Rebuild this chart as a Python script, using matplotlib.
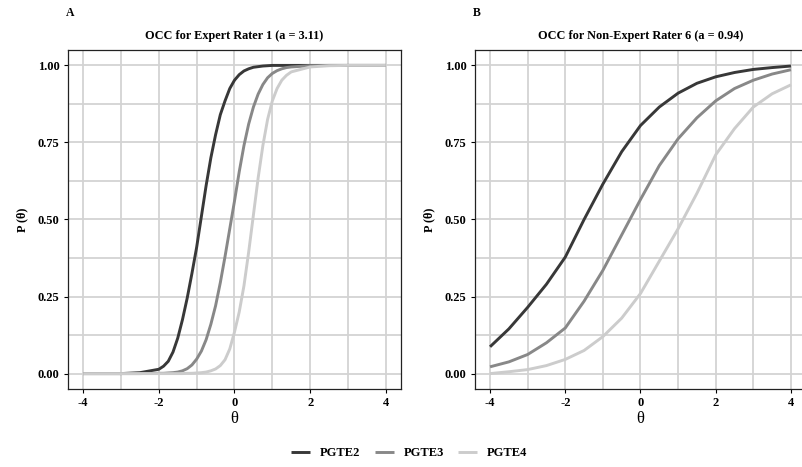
import matplotlib
matplotlib.use("Agg")
import matplotlib.pyplot as plt
from matplotlib.ticker import MultipleLocator

plt.rcParams["font.family"] = ["Liberation Serif", "DejaVu Serif"]

# theta grid (finer where the expert curves are steep)
theta_a = [-4, -3, -2.5,
           -2, -1.875, -1.75, -1.625, -1.5, -1.375, -1.25, -1.125, -1,
           -0.875, -0.75, -0.625, -0.5, -0.375, -0.25, -0.125, 0,
           0.125, 0.25, 0.375, 0.5, 0.625, 0.75, 0.875, 1,
           1.125, 1.25, 1.375, 1.5,
           2, 2.5, 3, 4]
# panel A: expert rater 1
a_pgte2 = [0.0, 0.0, 0.003,
           0.014, 0.024, 0.04, 0.07, 0.115, 0.175, 0.245, 0.325, 0.41,
           0.51, 0.61, 0.70, 0.775, 0.84, 0.885, 0.925, 0.952,
           0.97, 0.982, 0.989, 0.994, 0.996, 0.998, 0.999, 1.0,
           1.0, 1.0, 1.0, 1.0,
           1.0, 1.0, 1.0, 1.0]
a_pgte3 = [0.0, 0.0, 0.0,
           0.001, 0.001, 0.002, 0.003, 0.005, 0.009, 0.016, 0.028, 0.047,
           0.073, 0.11, 0.16, 0.22, 0.295, 0.38, 0.47, 0.56,
           0.655, 0.74, 0.81, 0.865, 0.907, 0.938, 0.96, 0.974,
           0.983, 0.989, 0.993, 0.995,
           0.999, 1.0, 1.0, 1.0]
a_pgte4 = [0.0, 0.0, 0.0,
           0.0, 0.0, 0.0, 0.0, 0.0, 0.0, 0.001, 0.001, 0.002,
           0.003, 0.005, 0.009, 0.015, 0.026, 0.045, 0.08, 0.135,
           0.2, 0.285, 0.395, 0.515, 0.635, 0.74, 0.825, 0.885,
           0.925, 0.952, 0.968, 0.979,
           0.995, 0.999, 1.0, 1.0]

theta_b = [-4, -3.5, -3, -2.5, -2, -1.5, -1, -0.5, 0, 0.5, 1, 1.5, 2, 2.5, 3, 3.5, 4]
# panel B: non-expert rater 6
b_pgte2 = [0.087, 0.145, 0.215, 0.29, 0.378, 0.50, 0.615, 0.72, 0.805, 0.865,
           0.91, 0.942, 0.963, 0.977, 0.987, 0.993, 0.998]
b_pgte3 = [0.022, 0.038, 0.062, 0.10, 0.148, 0.235, 0.335, 0.45, 0.565, 0.675,
           0.762, 0.83, 0.885, 0.925, 0.952, 0.972, 0.986]
b_pgte4 = [0.0, 0.006, 0.013, 0.026, 0.046, 0.075, 0.12, 0.18, 0.26, 0.365,
           0.47, 0.585, 0.71, 0.795, 0.865, 0.908, 0.937]

labels = ["PGTE2", "PGTE3", "PGTE4"]
colors = ["#383838", "#888888", "#cccccc"]
titles = ["OCC for Expert Rater 1 (a = 3.11)", "OCC for Non-Expert Rater 6 (a = 0.94)"]
tags = ["A", "B"]

fig = plt.figure(figsize=(8.03, 4.67), dpi=100)
W, H = 803, 467
ax1 = fig.add_axes([68 / W, 1 - 389 / H, 333 / W, 339 / H])
ax2 = fig.add_axes([475 / W, 1 - 389 / H, 331 / W, 339 / H])

panels = [(ax1, theta_a, [a_pgte2, a_pgte3, a_pgte4]),
          (ax2, theta_b, [b_pgte2, b_pgte3, b_pgte4])]

for i, (ax, th, series) in enumerate(panels):
    for ys, lab, col in zip(series, labels, colors):
        ax.plot(th, ys, color=col, lw=2.1, label=lab, solid_capstyle="butt")
    ax.set_xlim(-4.4, 4.4)
    ax.set_ylim(-0.05, 1.05)
    ax.xaxis.set_major_locator(MultipleLocator(2))
    ax.xaxis.set_minor_locator(MultipleLocator(1))
    ax.yaxis.set_major_locator(MultipleLocator(0.25))
    ax.yaxis.set_minor_locator(MultipleLocator(0.125))
    ax.yaxis.set_major_formatter(plt.FuncFormatter(lambda v, p: f"{v:.2f}"))
    ax.xaxis.set_major_formatter(plt.FuncFormatter(lambda v, p: f"{v:.0f}"))
    ax.grid(which="both", color="#d3d3d3", lw=1.3)
    ax.set_axisbelow(True)
    ax.tick_params(which="major", length=3, width=0.8, color="black",
                   labelsize=9, pad=3)
    ax.tick_params(which="minor", length=0)
    for lbl in ax.get_xticklabels() + ax.get_yticklabels():
        lbl.set_fontweight("bold")
    for sp in ax.spines.values():
        sp.set_color("#222222")
        sp.set_linewidth(0.9)
    ax.set_title(titles[i], fontsize=8.8, fontweight="bold", pad=8)
    ax.set_xlabel("θ", fontsize=12, labelpad=1)
    ax.set_ylabel("P (θ)", fontsize=8.8, fontweight="bold", labelpad=7)
    ax.text(-0.005, 1.11, tags[i], transform=ax.transAxes, fontsize=8.5,
            fontweight="bold", ha="left", va="center")

handles, labs = ax1.get_legend_handles_labels()
leg = fig.legend(handles, labs, loc="center", bbox_to_anchor=(0.51, 1 - 453 / H),
                 ncol=3, frameon=False, handlelength=1.5, handletextpad=0.8,
                 columnspacing=1.15, prop={"size": 9, "weight": "bold"})

fig.savefig("out.png", dpi=100, facecolor="white")
